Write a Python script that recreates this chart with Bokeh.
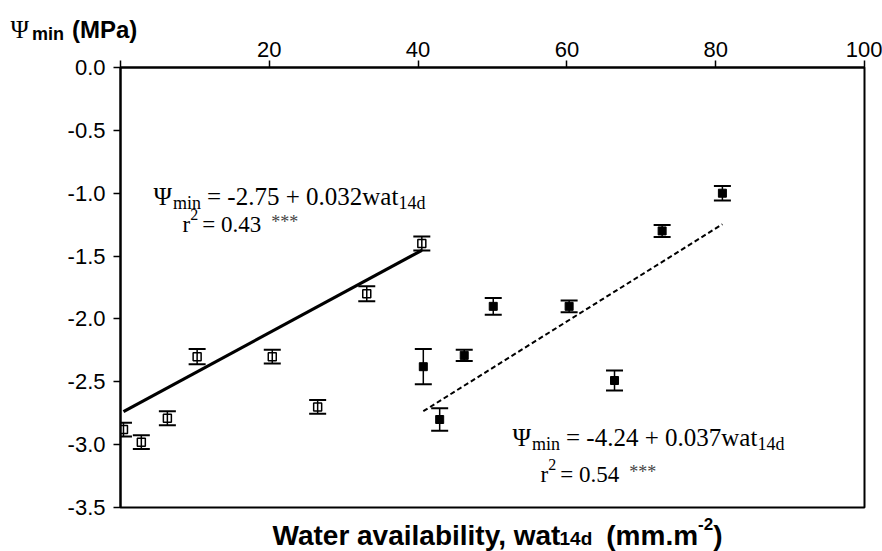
from bokeh.plotting import figure
from bokeh.models import Range1d, FixedTicker, Whisker, TeeHead, ColumnDataSource, Label
from bokeh.embed import file_html
from bokeh.resources import INLINE

# ---------------- data ----------------
wat_open = [0.4, 2.8, 6.3, 10.3, 20.4, 26.5, 33.1, 40.5]
psi_open = [-2.88, -2.98, -2.79, -2.30, -2.30, -2.70, -1.80, -1.40]
err_open = [0.055, 0.055, 0.055, 0.06, 0.055, 0.055, 0.06, 0.055]

wat_filled = [40.7, 42.9, 46.2, 50.1, 60.3, 66.4, 72.8, 80.9]
psi_filled = [-2.38, -2.80, -2.29, -1.90, -1.90, -2.49, -1.30, -1.00]
err_filled = [0.14, 0.09, 0.045, 0.066, 0.047, 0.08, 0.048, 0.057]

fit_open = [-2.75, 0.032]     # intercept, slope
fit_filled = [-4.24, 0.037]

x_ticks = [0, 20, 40, 60, 80, 100]
y_ticks = [0.0, -0.5, -1.0, -1.5, -2.0, -2.5, -3.0, -3.5]

# ---------------- layout constants ----------------
PAGE_W, PAGE_H = 882, 551
FW, FH = 744, 440
X0, X1 = 0, 100
Y0, Y1 = -3.5, 0.0
LEFT, TOP = 120, 67
OV_DY = -8          # vertical correction of the absolutely positioned overlay

SANS = "Liberation Sans"
SERIF = "Liberation Serif"

p = figure(width=PAGE_W, height=PAGE_H, output_backend="svg", toolbar_location=None,
           x_range=Range1d(X0, X1), y_range=Range1d(Y0, Y1),
           x_axis_location="above", frame_width=FW, frame_height=FH,
           min_border_left=LEFT, min_border_right=PAGE_W - LEFT - FW,
           min_border_top=TOP, min_border_bottom=PAGE_H - TOP - FH)
p.background_fill_color = "white"
p.border_fill_color = "white"
p.outline_line_color = "black"
p.outline_line_width = 2
p.xgrid.visible = False
p.ygrid.visible = False

xa = p.xaxis[0]
xa.ticker = FixedTicker(ticks=x_ticks)
xa.major_label_overrides = {t: ("" if t == 0 else str(t)) for t in x_ticks}
ya = p.yaxis[0]
ya.ticker = FixedTicker(ticks=y_ticks)
ya.major_label_overrides = {t: f"{t:.1f}" for t in y_ticks}
for ax in (xa, ya):
    ax.axis_line_width = 2
    ax.axis_line_color = "black"
    ax.major_tick_line_width = 1.5
    ax.major_tick_line_color = "black"
    ax.major_tick_in = 0
    ax.major_tick_out = 7
    ax.minor_tick_line_color = None
    ax.major_label_text_font = SANS
    ax.major_label_text_font_size = "22px"
    ax.major_label_text_color = "black"
ya.major_label_standoff = 8
xa.major_label_standoff = 4

# ---------------- fit lines ----------------
def fit_xy(xs, coef):
    a, b = coef
    lo, hi = min(xs), max(xs)
    return [lo, hi], [a + b * lo, a + b * hi]

fx, fy = fit_xy(wat_open, fit_open)
p.line(fx, fy, line_color="black", line_width=3.2)
fx, fy = fit_xy(wat_filled, fit_filled)
p.line(fx, fy, line_color="black", line_width=2, line_dash="5 3")

# ---------------- points and error bars ----------------
def series(xs, ys, es, filled):
    src = ColumnDataSource(dict(x=xs, y=ys, lo=[y - e for y, e in zip(ys, es)],
                                hi=[y + e for y, e in zip(ys, es)]))
    w = Whisker(base="x", lower="lo", upper="hi", source=src, dimension="height",
                line_color="black", line_width=1.5, level="glyph",
                upper_head=TeeHead(size=17, line_width=2, line_color="black"),
                lower_head=TeeHead(size=17, line_width=2, line_color="black"))
    if filled:
        p.scatter("x", "y", source=src, marker="square", size=8,
                  fill_color="black", line_color="black", line_width=1)
    else:
        p.scatter("x", "y", source=src, marker="square", size=8,
                  fill_color=None, line_color="black", line_width=1.5)
    p.add_layout(w)

series(wat_open, psi_open, err_open, False)
series(wat_filled, psi_filled, err_filled, True)

# ---------------- text helpers ----------------
W_SANS_B = {'W': 944, 'a': 556, 't': 333, 'e': 556, 'r': 389, ' ': 278, 'v': 556, 'i': 278,
            'l': 278, 'b': 611, 'y': 556, ',': 278, 'w': 778, '1': 556, '4': 556, 'd': 611,
            '(': 333, 'm': 889, '.': 278, '-': 333, '2': 556, ')': 333, 'n': 611, 'M': 833,
            'P': 667}
W_SERIF = {'Ψ': 780, 'm': 778, 'i': 278, 'n': 500, ' ': 250, '=': 564, '-': 333, '.': 250,
           '+': 564, 'w': 722, 'a': 444, 't': 278, 'd': 500, 'r': 333, '*': 500}
for c in "0123456789":
    W_SERIF[c] = 500


def text_width(s, size, font):
    table = W_SERIF if font == SERIF else W_SANS_B
    return sum(table.get(c, 550) for c in s) * size / 1000.0


def main_px2data(px, py):
    return (X0 + (px - LEFT) / FW * (X1 - X0), Y1 - (py - TOP) / FH * (Y1 - Y0))


def ov_px(px, py):
    return px, py + OV_DY


def chain(fig, conv, px, py, pieces):
    x = px
    for (s, size, font, bold, dy, color, gap) in pieces:
        x += gap
        dx, dyy = conv(x, py + dy)
        fig.add_layout(Label(x=dx, y=dyy, text=s, text_font=font, text_font_size=f"{size}px",
                             text_font_style="bold" if bold else "normal",
                             text_color=color, text_align="left", text_baseline="alphabetic"))
        x += text_width(s, size, font)


# equation 1
chain(p, main_px2data, 153, 196, [("Ψ", 25, SERIF, False, 0, "black", 0),
                                  ("min", 18, SERIF, False, 6, "black", 0),
                                  ("= -2.75 + 0.032wat", 25, SERIF, False, 0, "black", 6),
                                  ("14d", 18, SERIF, False, 6, "black", 0)])
chain(p, main_px2data, 182, 224, [("r", 23, SERIF, False, 0, "black", 0),
                                  ("2", 16, SERIF, False, -10, "black", 0),
                                  ("= 0.43", 23, SERIF, False, 0, "black", 4),
                                  ("***", 18, SERIF, False, -3, "#444444", 10)])
# equation 2
chain(p, main_px2data, 512, 437, [("Ψ", 25, SERIF, False, 0, "black", 0),
                                  ("min", 18, SERIF, False, 6, "black", 0),
                                  ("= -4.24 + 0.037wat", 25, SERIF, False, 0, "black", 6),
                                  ("14d", 18, SERIF, False, 6, "black", 0)])
chain(p, main_px2data, 540, 474, [("r", 23, SERIF, False, 0, "black", 0),
                                  ("2", 16, SERIF, False, -10, "black", 0),
                                  ("= 0.54", 23, SERIF, False, 0, "black", 4),
                                  ("***", 18, SERIF, False, -3, "#444444", 10)])

# ---------------- overlay with the two axis titles (page pixel coordinates) ----------------
ov = figure(width=PAGE_W, height=PAGE_H, output_backend="svg", toolbar_location=None,
            x_range=Range1d(0, PAGE_W), y_range=Range1d(PAGE_H, 0),
            x_axis_location=None, y_axis_location=None, min_border=0)
ov.background_fill_color = None
ov.border_fill_color = None
ov.outline_line_color = None
ov.xgrid.visible = False
ov.ygrid.visible = False
ov.styles = {"position": "absolute", "left": "0px", "top": "0px", "z-index": "10",
             "pointer-events": "none"}

xt_pieces = [("Water availability, wat", 28, SANS, True, 0, "black", 0),
             ("14d", 19, SANS, True, 3, "black", -4),
             ("(mm.m", 28, SANS, True, 0, "black", 14),
             ("-2", 17, SANS, True, -12, "black", 0),
             (")", 28, SANS, True, 0, "black", 0)]
total = sum(text_width(s, sz, f) + g for (s, sz, f, b, dy, c, g) in xt_pieces)
chain(ov, ov_px, 497 - total / 2, 543, xt_pieces)

chain(ov, ov_px, 10, 37, [("Ψ", 25, SERIF, False, 0, "black", 0),
                          ("min", 18, SANS, True, 4, "black", 2),
                          ("(MPa)", 24, SANS, True, 0, "black", 8)])

open("out.html", "w").write(file_html([p, ov], INLINE))
